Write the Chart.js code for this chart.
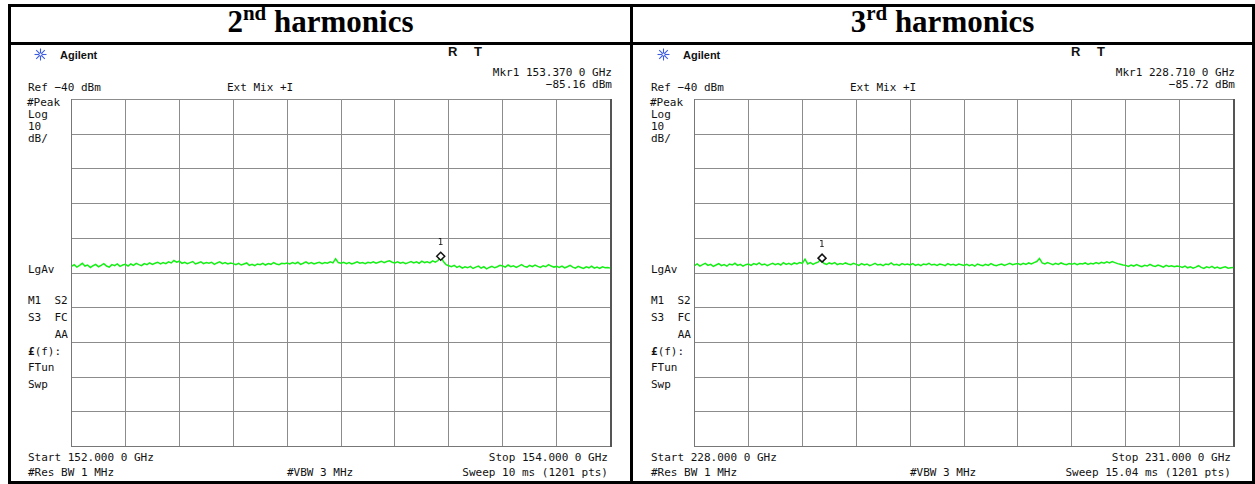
<!DOCTYPE html>
<html>
<head>
<meta charset="utf-8">
<script src="https://cdn.jsdelivr.net/npm/chart.js@4.4.1/dist/chart.umd.min.js"></script>
<style>
  body { margin: 0; background: #fff; width: 1255px; height: 484px; overflow: hidden; position: relative; }
  .ln { position: absolute; background: #000; }
  .t { position: absolute; font: 11px "DejaVu Sans Mono", monospace; color: #111; line-height: 12px; white-space: pre; }
  .r { text-align: right; }
  .sans { font-family: "Liberation Sans", Arial, sans-serif; font-weight: bold; }
  .title { position: absolute; top: 4px; height: 38px; line-height: 38px; text-align: center;
           font: bold 31px "Liberation Serif", "Times New Roman", serif; color: #000; }
  .title sup { font-size: 21px; position: relative; top: -12px; vertical-align: baseline; }
  .plot { position: absolute; top: 94px; width: 550px; height: 358px; }
</style>
</head>
<body>
<div class="ln" style="left:8px;top:4px;width:1247px;height:3px"></div>
<div class="ln" style="left:8px;top:42px;width:1247px;height:3px"></div>
<div class="ln" style="left:8px;top:481px;width:1247px;height:3px"></div>
<div class="ln" style="left:8px;top:4px;width:3px;height:480px"></div>
<div class="ln" style="left:630px;top:4px;width:3px;height:480px"></div>
<div class="ln" style="left:1252px;top:4px;width:3px;height:480px"></div>
<div id="page"></div>
<script>
const titles = [['2', 'nd'], ['3', 'rd']];
const startGHz = [152.0, 228.0];
const stopGHz = [154.0, 231.0];
const startText = ['Start 152.000 0 GHz', 'Start 228.000 0 GHz'];
const stopText = ['Stop 154.000 0 GHz', 'Stop 231.000 0 GHz'];
const sweepText = ['Sweep 10 ms (1201 pts)', 'Sweep 15.04 ms (1201 pts)'];
const mkrFreq = [153.370, 228.710];
const mkrLevel = [-85.16, -85.72];
const mkrText = ['Mkr1 153.370 0 GHz', 'Mkr1 228.710 0 GHz'];
const refLevel = -40;
const dbPerDiv = 10;

const trace2nd = [
  -88.1,-87.6,-88.3,-87.8,-87.2,-88.0,-87.7,-88.4,-87.9,-87.5,-88.2,-87.8,-87.3,-88.0,-88.3,-87.6,-87.9,-87.4,-88.1,-87.7,
  -87.5,-88.0,-87.4,-87.8,-87.2,-87.6,-87.9,-87.3,-87.6,-87.1,-87.5,-87.2,-86.9,-87.4,-87.0,-87.3,-86.8,-87.1,-86.4,-86.9,
  -86.6,-87.2,-86.9,-87.3,-87.0,-86.7,-87.4,-87.1,-86.8,-87.3,-87.0,-87.2,-86.9,-87.5,-87.1,-86.8,-87.3,-87.0,-87.4,-87.1,
  -87.3,-87.6,-87.2,-87.7,-87.4,-87.1,-87.8,-87.5,-87.9,-87.4,-87.6,-87.2,-87.7,-87.3,-87.5,-87.0,-87.4,-87.6,-87.2,-87.3,
  -87.1,-87.4,-87.0,-87.3,-86.9,-87.5,-87.2,-86.8,-87.3,-87.0,-87.4,-87.1,-86.9,-87.3,-87.0,-87.2,-86.8,-87.1,-85.9,-87.0,
  -87.2,-86.9,-87.3,-87.0,-87.4,-87.1,-86.8,-87.2,-87.0,-87.3,-86.9,-87.1,-86.8,-87.2,-86.9,-86.6,-87.0,-86.7,-86.5,-86.9,
  -87.1,-86.8,-87.2,-86.9,-87.3,-87.0,-86.7,-87.1,-86.8,-87.2,-86.6,-87.0,-86.8,-87.1,-86.5,-86.9,-86.4,-85.16,-86.7,-87.6,
  -87.9,-88.2,-87.8,-88.4,-88.0,-88.6,-88.2,-88.5,-88.1,-88.7,-88.3,-88.0,-88.6,-88.2,-88.8,-88.4,-88.1,-88.5,-88.2,-87.8,
  -88.0,-88.3,-87.7,-88.2,-87.9,-88.4,-88.0,-87.6,-88.1,-88.3,-87.8,-88.2,-87.7,-88.1,-88.4,-87.9,-88.2,-87.6,-88.0,-88.3,
  -88.1,-88.4,-88.0,-88.5,-88.2,-87.8,-88.3,-88.6,-88.1,-88.4,-88.7,-88.2,-88.5,-88.0,-88.6,-88.3,-88.7,-88.2,-88.5,-88.4,-88.6
];
const trace3rd = [
  -87.9,-87.4,-88.0,-87.6,-87.2,-87.8,-87.5,-88.1,-87.7,-87.3,-87.9,-87.6,-88.0,-87.4,-87.7,-87.2,-87.8,-87.5,-88.0,-87.6,
  -87.4,-87.8,-87.3,-87.6,-87.1,-87.7,-87.4,-87.9,-87.5,-87.2,-87.6,-87.3,-87.7,-87.0,-87.5,-87.2,-87.6,-87.1,-87.4,-87.0,
  -87.2,-86.0,-87.4,-87.0,-87.5,-87.1,-86.8,-85.72,-87.2,-87.5,-87.1,-87.4,-87.0,-87.6,-87.3,-87.5,-87.1,-87.4,-87.6,-87.2,
  -87.5,-87.8,-87.3,-87.7,-87.4,-87.9,-87.6,-87.2,-87.7,-87.5,-87.9,-87.4,-87.6,-87.1,-87.7,-87.5,-87.8,-87.3,-87.6,-87.4,
  -87.7,-87.3,-87.8,-87.5,-87.9,-87.4,-87.6,-87.2,-87.7,-87.5,-87.8,-87.4,-87.6,-87.9,-87.3,-87.7,-87.5,-87.8,-87.4,-87.6,
  -87.8,-87.5,-87.9,-87.6,-88.0,-87.4,-87.7,-87.9,-87.5,-87.8,-87.3,-87.7,-87.9,-87.6,-87.4,-87.8,-87.5,-87.2,-87.6,-87.4,
  -87.3,-87.6,-87.2,-87.5,-87.1,-87.4,-87.0,-86.7,-85.8,-87.1,-87.4,-87.0,-87.3,-87.6,-87.2,-87.5,-87.1,-87.4,-87.6,-87.3,
  -87.5,-87.2,-87.6,-87.3,-87.4,-87.1,-87.5,-87.2,-87.4,-87.0,-87.3,-86.9,-87.2,-86.8,-87.1,-86.7,-87.0,-87.3,-87.5,-87.7,
  -87.8,-88.1,-87.7,-88.0,-87.6,-87.9,-88.2,-87.8,-88.0,-87.5,-87.9,-88.1,-87.7,-88.0,-88.3,-87.8,-88.1,-87.9,-88.2,-88.0,
  -88.1,-88.4,-88.0,-88.5,-88.2,-88.6,-88.3,-87.9,-88.4,-88.7,-88.2,-88.5,-88.1,-88.6,-88.3,-88.7,-88.4,-88.2,-88.6,-88.5,-88.4
];
const traces = [trace2nd, trace3rd];

const star = `<svg width="13" height="13" viewBox="0 0 13 13" style="position:absolute;left:-26px;top:-1px">
  <g stroke="#3b5be0" stroke-width="1.1">
  <line x1="6.5" y1="0.5" x2="6.5" y2="12.5"/><line x1="0.5" y1="6.5" x2="12.5" y2="6.5"/>
  <line x1="2.2" y1="2.2" x2="10.8" y2="10.8"/><line x1="10.8" y1="2.2" x2="2.2" y2="10.8"/></g>
  <circle cx="6.5" cy="6.5" r="1.6" fill="#fff" stroke="#3b5be0"/></svg>`;

function txt(x, cy, s, cls, right) {
  const pos = right ? `right:${1255 - x}px` : `left:${x}px`;
  return `<div class="t ${cls || ''}" style="${pos};top:${cy - 6}px">${s}</div>`;
}

const page = document.getElementById('page');
let html = '';
for (let p = 0; p < 2; p++) {
  const o = p * 623;
  const cellL = p ? 633 : 11;
  html += `<div class="title" style="left:${cellL}px;width:619px">${titles[p][0]}<sup>${titles[p][1]}</sup> harmonics</div>`;
  html += `<div class="t sans" style="left:${60 + o}px;top:49px;font-size:11px">${star}Agilent</div>`;
  html += `<div class="t sans" style="left:${448 + o}px;top:46px;font-size:13px">R</div>`;
  html += `<div class="t sans" style="left:${474 + o}px;top:46px;font-size:13px">T</div>`;
  html += txt(612 + o, 73, mkrText[p], 'r', true);
  html += txt(612 + o, 85, mkrLevel[p].toFixed(2).replace('-', '\u2212') + ' dBm', 'r', true);
  html += txt(28 + o, 88, 'Ref \u2212' + Math.abs(refLevel) + ' dBm');
  html += txt(227 + o, 88, 'Ext Mix +I');
  html += txt(27 + o, 103, '#Peak');
  html += txt(28 + o, 115, 'Log');
  html += txt(28 + o, 127, String(dbPerDiv));
  html += txt(28 + o, 139, 'dB/');
  html += txt(28 + o, 270, 'LgAv');
  html += txt(28 + o, 301, 'M1  S2');
  html += txt(28 + o, 318, 'S3  FC');
  html += txt(68 + o, 335, 'AA', 'r', true);
  html += txt(28 + o, 352, '<b>\u00a3</b>(f):');
  html += txt(28 + o, 368, 'FTun');
  html += txt(28 + o, 385, 'Swp');
  html += txt(28 + o, 458, startText[p]);
  html += txt(28 + o, 473, '#Res BW 1 MHz');
  html += txt(287 + o, 473, '#VBW 3 MHz');
  html += txt(608 + o, 458, stopText[p], 'r', true);
  html += txt(608 + o, 473, sweepText[p], 'r', true);
  html += `<div class="plot" style="left:${66 + o}px"><canvas id="c${p}" width="550" height="358"></canvas></div>`;
}
page.innerHTML = html;

const charts = [];
for (let p = 0; p < 2; p++) {
  const start = startGHz[p], stop = stopGHz[p], lv = traces[p];
  const pts = lv.map((v, i) => ({ x: start + i * (stop - start) / (lv.length - 1), y: v }));
  const bottom = refLevel - 10 * dbPerDiv;
  charts.push(new Chart(document.getElementById('c' + p), {
    type: 'line',
    data: {
      datasets: [
        { label: 'Mkr1', data: [{ x: mkrFreq[p], y: mkrLevel[p] }], showLine: false,
          pointStyle: 'rectRot', pointRadius: 4, borderColor: '#111', backgroundColor: '#fff', borderWidth: 1.5 },
        { label: 'Trace', data: pts, borderColor: '#14f014', borderWidth: 1.5, pointRadius: 0, tension: 0 }
      ]
    },
    options: {
      responsive: false, animation: false, events: [],
      layout: { padding: 4 },
      plugins: { legend: { display: false }, tooltip: { enabled: false } },
      scales: {
        x: { type: 'linear', min: start, max: stop,
             ticks: { display: false, count: 11 },
             grid: { color: '#8c8c8c', drawTicks: false }, border: { color: '#777' } },
        y: { min: bottom, max: refLevel,
             ticks: { display: false, stepSize: dbPerDiv },
             grid: { color: '#8c8c8c', drawTicks: false }, border: { color: '#777' } },
        y2: { position: 'right', min: bottom, max: refLevel,
              ticks: { display: false }, grid: { display: false, drawTicks: false },
              border: { color: '#555', width: 2 } }
      }
    }
  }));
}

// marker number above each diamond
charts.forEach((ch, p) => {
  const x = ch.scales.x.getPixelForValue(mkrFreq[p]) + (p ? 689 : 66);
  const y = ch.scales.y.getPixelForValue(mkrLevel[p]) + 94;
  const d = document.createElement('div');
  d.className = 't';
  d.style.cssText = `left:${x - 3}px;top:${y - 18}px;font-size:9px;line-height:9px`;
  d.textContent = '1';
  page.appendChild(d);
});
</script>
</body>
</html>
